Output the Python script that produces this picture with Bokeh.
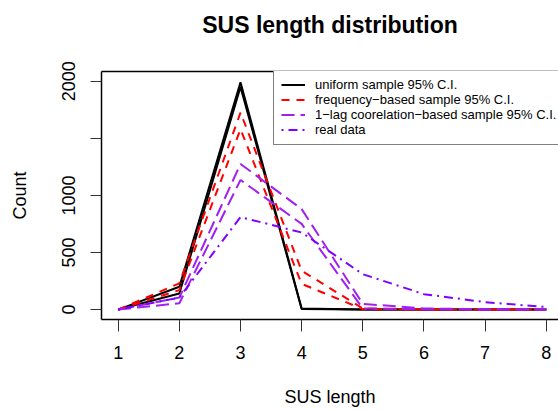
from bokeh.plotting import figure
from bokeh.models import Range1d, LinearAxis, FixedTicker, Legend, LegendItem, Title
from bokeh.embed import file_html
from bokeh.resources import INLINE

# ---- data ----
sus_length = [1, 2, 3, 4, 5, 6, 7, 8]
uniform_upper = [0, 200, 1990, 10, 0, 0, 0, 0]
uniform_lower = [0, 140, 1950, 5, 0, 0, 0, 0]
frequency_upper = [0, 230, 1725, 340, 10, 0, 0, 0]
frequency_lower = [0, 170, 1580, 225, 4, 0, 0, 0]
lag_upper = [0, 105, 1275, 880, 50, 10, 3, 2]
lag_lower = [0, 55, 1135, 750, 10, 3, 1, 0]
real_data = [0, 105, 810, 675, 310, 135, 65, 22]

x_ticks = [1, 2, 3, 4, 5, 6, 7, 8]
y_ticks = [0, 500, 1000, 1500, 2000]
legend_labels = [
    "uniform sample 95% C.I.",
    "frequency\u2212based sample 95% C.I.",
    "1\u2212lag coorelation\u2212based sample 95% C.I.",
    "real data",
]
title_text = "SUS length distribution"

FONT = "Liberation Sans"

p = figure(
    width=558, height=410, output_backend="svg", toolbar_location=None,
    x_range=Range1d(0.727, 8.2), y_range=Range1d(-87, 2085),
    min_border_left=101, min_border_right=0, min_border_top=71, min_border_bottom=91,
    x_axis_label="SUS length", y_axis_label="Count",
)
p.outline_line_color = None
p.grid.visible = False
p.background_fill_color = "white"
p.border_fill_color = "white"

# x axis
xa = p.xaxis[0]
xa.ticker = FixedTicker(ticks=x_ticks)
xa.minor_tick_line_color = None
xa.major_tick_in = 0
xa.major_tick_out = 12
xa.major_tick_line_color = "#333333"
xa.axis_line_width = 1.5
xa.major_label_text_font = FONT
xa.major_label_text_font_size = "18px"
xa.major_label_text_color = "black"
xa.major_label_standoff = 14
xa.axis_label_text_font = FONT
xa.axis_label_text_font_size = "18px"
xa.axis_label_text_font_style = "normal"
xa.axis_label_text_color = "black"
xa.axis_label_standoff = 25

# y axis
ya = p.yaxis[0]
ya.ticker = FixedTicker(ticks=y_ticks)
ya.major_label_overrides = {1500: ""}
ya.minor_tick_line_color = None
ya.major_tick_in = 0
ya.major_tick_out = 11
ya.major_tick_line_color = "#333333"
ya.axis_line_width = 1.5
ya.major_label_orientation = "vertical"
ya.major_label_text_font = FONT
ya.major_label_text_font_size = "18px"
ya.major_label_text_color = "black"
ya.major_label_standoff = 15
ya.axis_label_text_font = FONT
ya.axis_label_text_font_size = "18px"
ya.axis_label_text_font_style = "normal"
ya.axis_label_text_color = "black"
ya.axis_label_standoff = 30

# top box line
top = LinearAxis(ticker=FixedTicker(ticks=[]), major_label_text_font_size="0px",
                 major_tick_out=0, major_tick_in=0, minor_tick_out=0, minor_tick_in=0,
                 axis_line_width=1.5, major_label_standoff=0)
p.add_layout(top, "above")

# spacer between frame and title, then the title itself
p.add_layout(Title(text=" ", text_font=FONT, text_font_size="10px", standoff=19), "above")
p.add_layout(Title(text=title_text, text_font=FONT, text_font_size="23px",
                   text_font_style="bold", align="center", text_color="black",
                   standoff=4), "above")

# series
r_u1 = p.line(sus_length, uniform_upper, line_color="black", line_width=2)
p.line(sus_length, uniform_lower, line_color="black", line_width=2)
r_f1 = p.line(sus_length, frequency_upper, line_color="#FF0000", line_width=2, line_dash="8 7")
p.line(sus_length, frequency_lower, line_color="#FF0000", line_width=2, line_dash="8 7")
r_l1 = p.line(sus_length, lag_upper, line_color="#A020F0", line_width=2, line_dash="13 6")
p.line(sus_length, lag_lower, line_color="#A020F0", line_width=2, line_dash="13 6")
r_r = p.line(sus_length, real_data, line_color="#7F00FF", line_width=2, line_dash="2 5 9 5")

legend = Legend(
    items=[LegendItem(label=lab, renderers=[r]) for lab, r in zip(legend_labels, [r_u1, r_f1, r_l1, r_r])],
    location=(172, 174),
    padding=7, margin=0, spacing=0,
    label_height=15, glyph_height=15, glyph_width=24, label_standoff=10,
    label_text_font=FONT, label_text_font_size="13px", label_text_color="black",
    border_line_color="black", border_line_width=1.2,
    background_fill_color="white", background_fill_alpha=1.0,
)
p.add_layout(legend, "center")

open("out.html", "w").write(file_html(p, INLINE))
